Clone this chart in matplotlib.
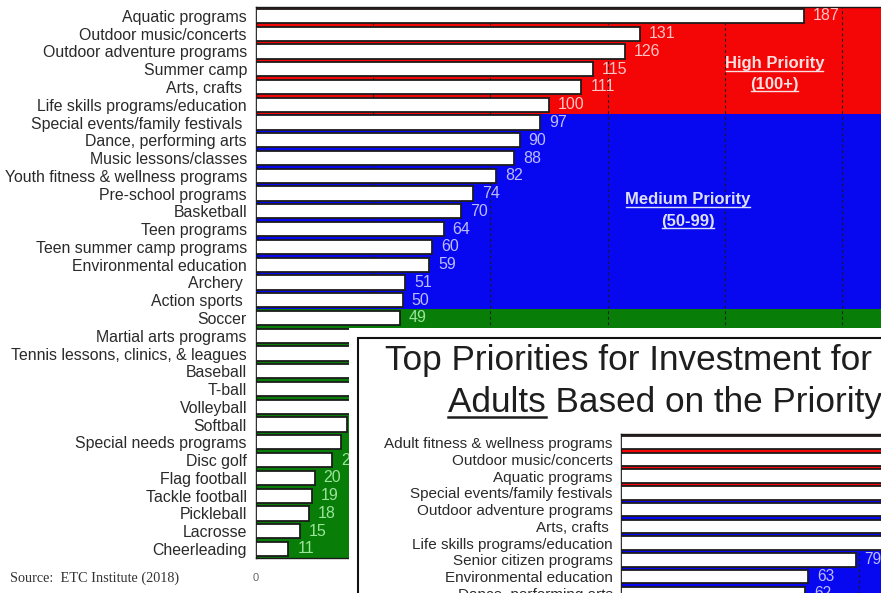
import matplotlib
matplotlib.use('Agg')
import matplotlib.pyplot as plt
from matplotlib.patches import Rectangle
from matplotlib.lines import Line2D

W, H, DPI = 881, 593, 100

# ---------------- data ----------------
youth_programs = [
    "Aquatic programs", "Outdoor music/concerts", "Outdoor adventure programs",
    "Summer camp", "Arts, crafts ", "Life skills programs/education",
    "Special events/family festivals ", "Dance, performing arts",
    "Music lessons/classes", "Youth fitness & wellness programs",
    "Pre-school programs", "Basketball", "Teen programs",
    "Teen summer camp programs", "Environmental education", "Archery ",
    "Action sports ", "Soccer", "Martial arts programs",
    "Tennis lessons, clinics, & leagues", "Baseball", "T-ball", "Volleyball",
    "Softball", "Special needs programs", "Disc golf", "Flag football",
    "Tackle football", "Pickleball", "Lacrosse", "Cheerleading",
]
youth_scores = [187, 131, 126, 115, 111, 100, 97, 90, 88, 82, 74, 70, 64, 60,
                59, 51, 50, 49, 45, 42, 39, 36, 33, 31, 29, 26, 20, 19, 18, 15, 11]

adult_programs = [
    "Adult fitness & wellness programs", "Outdoor music/concerts",
    "Aquatic programs", "Special events/family festivals",
    "Outdoor adventure programs", "Arts, crafts ",
    "Life skills programs/education", "Senior citizen programs",
    "Environmental education", "Dance, performing arts",
]
adult_scores = [196, 142, 130, 108, 98, 95, 92, 79, 63, 62]

x_ticks = [0, 40, 80, 120, 160, 200]
x_tick_labels = ["0", "", "", "", "", ""]   # only "0" is visible in the source
x_max = 240
high_cut, medium_cut = 100, 50

band_colors = {"high": "#F40606", "medium": "#0707F0", "low": "#087E08"}
value_colors = {"high": "#FFC4C4", "medium": "#BCBCFF", "low": "#9BE49B"}
text_dark = "#2a2a2a"

plt.rcParams['font.family'] = ['Liberation Sans', 'DejaVu Sans']

fig = plt.figure(figsize=(W / DPI, H / DPI), dpi=DPI)
fig.patch.set_facecolor('white')

OVERLAY_LEFT, OVERLAY_TOP = 349, 328


def px_box(left, top, width, height):
    return [left / W, 1 - (top + height) / H, width / W, height / H]


def tier(v):
    if v >= high_cut:
        return "high"
    if v >= medium_cut:
        return "medium"
    return "low"


value_texts = []


def priority_chart(ax, names, scores, fontsize, valsize, pad, label_offset):
    n = len(names)
    ys = list(range(n))
    tiers = [tier(v) for v in scores]
    start = 0
    for i in range(1, n + 1):
        if i == n or tiers[i] != tiers[start]:
            ax.axhspan(start - 0.5, i - 0.5, color=band_colors[tiers[start]],
                       lw=0, zorder=0.1)
            start = i
    ax.barh(ys, scores, height=0.8, color='white', edgecolor='#1c1c1c',
            linewidth=1.3, zorder=3)
    for i, v in enumerate(scores):
        t = ax.annotate(str(v), (v, i), xytext=(label_offset, 0),
                        textcoords='offset points', ha='left', va='center',
                        color=value_colors[tiers[i]], fontsize=valsize, zorder=4)
        value_texts.append(t)
    ax.set_xlim(0, x_max)
    ax.set_ylim(n - 0.5, -0.5)
    ax.set_yticks(ys, names)
    ax.tick_params(axis='y', length=0, pad=pad, labelsize=fontsize,
                   labelcolor=text_dark)
    ax.set_xticks(x_ticks, x_tick_labels)
    ax.tick_params(axis='x', length=0, labelsize=8, labelcolor='#666666', pad=11)
    ax.set_axisbelow(True)
    ax.xaxis.grid(True, linestyle=(0, (2.5, 2.5)), color='#1a1a1a', lw=0.8)
    for s in ax.spines.values():
        s.set_color('#1a1a1a')
        s.set_linewidth(1.0)


# ---------------- main (youth) chart ----------------
px_per_unit = 2.93
row_px = 17.77
ax = fig.add_axes(px_box(256, 7, x_max * px_per_unit, len(youth_programs) * row_px))
priority_chart(ax, youth_programs, youth_scores, fontsize=11.4, valsize=11.5,
               pad=6.5, label_offset=6.5)

band_kw = dict(ha='center', va='baseline', fontsize=12, fontweight='bold', zorder=5)
t_high1 = ax.text(177, 2.95, "High Priority", color='#FBE0E0', **band_kw)
t_high2 = ax.text(177, 4.1, "(100+)", color='#FBE0E0', **band_kw)
t_med1 = ax.text(147.5, 10.6, "Medium Priority", color='#DDE0FA', **band_kw)
t_med2 = ax.text(147.5, 11.8, "(50-99)", color='#DDE0FA', **band_kw)

fig.text(10 / W, 1 - 582 / H, "Source:  ETC Institute (2018)", fontsize=10.3,
         family=['Liberation Serif', 'DejaVu Serif'], color='#333333',
         ha='left', va='baseline')

# ---------------- overlay (adult) slide ----------------
fw, fh = W - OVERLAY_LEFT + 20, H - OVERLAY_TOP + 20
frame = fig.add_axes(px_box(OVERLAY_LEFT, OVERLAY_TOP, fw, fh))
frame.set_zorder(5)
frame.set_facecolor('white')
frame.set_xticks([])
frame.set_yticks([])
for s in frame.spines.values():
    s.set_visible(False)
frame.add_patch(Rectangle((9 / fw, -0.5), 2, 1.5 - 10 / fh, fill=False,
                          lw=1.5, ec='#111111', transform=frame.transAxes,
                          clip_on=False))

ax2_px = 2.97
ax2_row = 16.74
ax2 = fig.add_axes(px_box(621, 434.3, x_max * ax2_px, len(adult_programs) * ax2_row))
ax2.set_zorder(6)
priority_chart(ax2, adult_programs, adult_scores, fontsize=11, valsize=11.2,
               pad=6, label_offset=6.5)
ax2.tick_params(axis='x', labelbottom=False)

title_kw = dict(fontsize=25.3, color='#1e1e1e', ha='left', va='baseline', zorder=10)
fig.text(385 / W, 1 - 370 / H, "Top Priorities for Investment for", **title_kw)
fig.text(448 / W, 1 - 412 / H, "Adults Based on the Priority", **title_kw)

# ---------------- underlines / hidden labels ----------------
fig.canvas.draw()
r = fig.canvas.get_renderer()


def underline(x0_disp, x1_disp, y_disp, color, lw, z):
    fig.add_artist(Line2D([x0_disp / W, x1_disp / W], [y_disp / H, y_disp / H],
                          transform=fig.transFigure, color=color, lw=lw, zorder=z))


for t in (t_high1, t_high2, t_med1, t_med2):
    bb = t.get_window_extent(renderer=r)
    base_y = ax.transData.transform(t.get_position())[1]
    underline(bb.x0 + 1, bb.x1 - 1, base_y - 2.5, t.get_color(), 1.0, 4)

tmp = fig.text(448 / W, 1 - 412 / H, "Adults", **title_kw)
bb = tmp.get_window_extent(renderer=r)
tmp.remove()
underline(bb.x0, bb.x1, H - 417, '#1e1e1e', 1.8, 11)

# value labels that fall completely off the canvas or completely under the
# overlaid slide are not visible in the source picture
for t in value_texts:
    bb = t.get_window_extent(renderer=r)
    off_canvas = bb.x0 >= W - 1
    hidden = (t.axes is ax and bb.x0 >= OVERLAY_LEFT and bb.y1 <= H - OVERLAY_TOP)
    if off_canvas or hidden:
        t.remove()

fig.savefig('out.png', dpi=DPI)
